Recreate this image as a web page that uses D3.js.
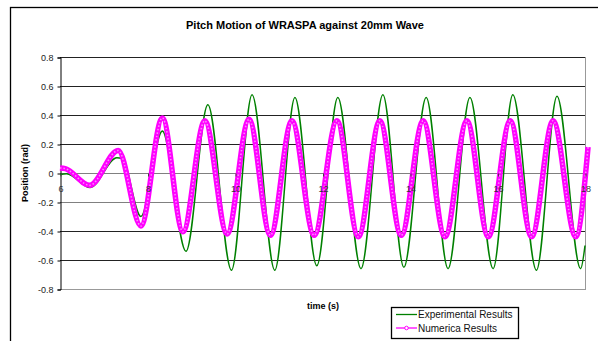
<!DOCTYPE html>
<html>
<head>
<meta charset="utf-8">
<script src="https://cdn.jsdelivr.net/npm/d3@7"></script>
<style>
  body { margin: 0; background: #fff; }
  svg { display: block; font-family: "Liberation Sans", Arial, sans-serif; }
</style>
</head>
<body>
<svg id="chart"></svg>
<script>
// values (turning points of each trace)
var expTime = [6.00, 6.15, 6.69, 7.30, 7.42, 7.85, 8.34, 8.88, 9.38, 9.92, 10.39, 10.91, 11.37, 11.87,
               12.35, 12.88, 13.38, 13.86, 14.37, 14.87, 15.37, 15.90, 16.35, 16.89, 17.36, 17.90, 18.00];
var expPos  = [-0.01, -0.005, -0.10, 0.105, 0.10, -0.30, 0.29, -0.54, 0.47, -0.67, 0.54, -0.67, 0.52, -0.64,
               0.52, -0.66, 0.54, -0.65, 0.52, -0.66, 0.52, -0.66, 0.54, -0.67, 0.53, -0.66, -0.50];

var numTime = [6.00, 6.12, 6.68, 7.33, 7.85, 8.34, 8.81, 9.31, 9.82, 10.32, 10.81, 11.30, 11.81, 12.33,
               12.82, 13.31, 13.80, 14.30, 14.80, 15.30, 15.79, 16.29, 16.78, 17.27, 17.79, 18.07];
var numPos  = [0.035, 0.03, -0.085, 0.155, -0.365, 0.38, -0.405, 0.36, -0.42, 0.37, -0.43, 0.36, -0.43, 0.36,
               -0.44, 0.36, -0.43, 0.36, -0.44, 0.36, -0.44, 0.36, -0.44, 0.36, -0.44, 0.18];

var xTicks = [6, 8, 10, 12, 14, 16, 18];
var yTicks = [0.8, 0.6, 0.4, 0.2, 0, -0.2, -0.4, -0.6, -0.8];
var yTickLabels = ["0.8", "0.6", "0.4", "0.2", "0", "-0.2", "-0.4", "-0.6", "-0.8"];
var seriesNames = ["Experimental Results", "Numerica Results"];

var width = 598, height = 341;
var svg = d3.select("#chart").attr("width", width).attr("height", height);

var plot = {left: 60, right: 585, top: 57, bottom: 289};

var xScale = d3.scaleLinear().domain([6, 18]).range([plot.left, plot.right]);
var yScale = d3.scaleLinear().domain([-0.8, 0.8]).range([plot.bottom, plot.top]);

// outer chart frame
svg.append("rect")
   .attr("x", 10.5).attr("y", 7.5)
   .attr("width", 600).attr("height", 400)
   .attr("fill", "#fff").attr("stroke", "#000").attr("stroke-width", 1.3);

// title
svg.append("text")
   .attr("x", 305).attr("y", 29)
   .attr("text-anchor", "middle")
   .style("font-size", "11px").style("font-weight", "bold")
   .text("Pitch Motion of WRASPA against 20mm Wave");

// gridlines
var gridColor = function(d){
  if (d == 0 || d == -0.2) return "#808080";
  if (d == -0.8) return "#999";
  return "#222";
};
svg.append("g").selectAll("line")
   .data(yTicks)
   .enter()
   .append("line")
   .attr("x1", plot.left).attr("x2", plot.right)
   .attr("y1", function(d){return Math.round(yScale(d)) + 0.5})
   .attr("y2", function(d){return Math.round(yScale(d)) + 0.5})
   .attr("stroke", gridColor)
   .attr("stroke-width", 1);

// right border of plot area
svg.append("line")
   .attr("x1", plot.right + 0.5).attr("x2", plot.right + 0.5)
   .attr("y1", plot.top).attr("y2", plot.bottom + 1)
   .attr("stroke", "#999");

// y axis
var yAxis = d3.axisLeft(yScale)
              .tickValues(yTicks)
              .tickSize(3)
              .tickPadding(4)
              .tickFormat(function(d, i){return yTickLabels[i]});
var yG = svg.append("g")
            .attr("transform", "translate(" + (plot.left + 0.5) + ",0.5)")
            .call(yAxis);
yG.select(".domain").attr("stroke", "#000");
yG.selectAll("text").style("font-size", "9px").attr("fill", "#222").attr("font-family", null);

// series
var expData = expTime.map(function(t, i){return {t: t, v: expPos[i]}});
var numData = numTime.map(function(t, i){return {t: t, v: numPos[i]}});

var line = d3.line()
             .x(function(d){return xScale(d.t)})
             .y(function(d){return yScale(d.v)})
             .curve(d3.curveMonotoneX);

svg.append("path")
   .datum(expData)
   .attr("d", line)
   .attr("fill", "none")
   .attr("stroke", "#008000")
   .attr("stroke-width", 1.5);

svg.append("path")
   .datum(numData)
   .attr("d", line)
   .attr("fill", "none")
   .attr("stroke", "#ff00ff")
   .attr("stroke-width", 5.5);

// lighter inside of the marker chain
svg.append("path")
   .datum(numData)
   .attr("d", line)
   .attr("fill", "none")
   .attr("stroke", "#ff88ff")
   .attr("stroke-width", 1.6)
   .attr("stroke-dasharray", "1.5,2");

// x axis crossing at 0, drawn over the traces like the original
var xAxis = d3.axisBottom(xScale)
              .tickValues(xTicks)
              .tickSize(3)
              .tickPadding(9)
              .tickFormat(d3.format("d"));
var xG = svg.append("g")
            .attr("transform", "translate(0.5," + (Math.round(yScale(0)) + 0.5) + ")")
            .call(xAxis);
xG.select(".domain").remove();
xG.selectAll("line").attr("stroke", "#444");
xG.selectAll("text").style("font-size", "9px").attr("fill", "#333").attr("font-family", null);

// axis titles
svg.append("text")
   .attr("transform", "translate(28," + yScale(0) + ") rotate(-90)")
   .attr("text-anchor", "middle")
   .style("font-size", "9px").style("font-weight", "bold")
   .text("Position (rad)");

svg.append("text")
   .attr("x", 307).attr("y", 309)
   .style("font-size", "9px").style("font-weight", "bold")
   .text("time (s)");

// legend
var legend = svg.append("g").attr("transform", "translate(391,307)");
legend.append("rect")
      .attr("x", 0.5).attr("y", 0.5)
      .attr("width", 127).attr("height", 31)
      .attr("fill", "#fff").attr("stroke", "#000").attr("stroke-width", 1.3);

var legColors = ["#008000", "#ff00ff"];
var items = legend.selectAll("g.item")
                  .data(seriesNames)
                  .enter()
                  .append("g")
                  .classed("item", true)
                  .attr("transform", function(d, i){return "translate(0," + (7.5 + i * 13.5) + ")"});

items.append("line")
     .attr("x1", 5).attr("x2", 26)
     .attr("stroke", function(d, i){return legColors[i]})
     .attr("stroke-width", 1.3);

items.filter(function(d, i){return i == 1})
     .append("circle")
     .attr("cx", 15.5).attr("r", 1.8)
     .attr("fill", "#fff").attr("stroke", "#ff00ff").attr("stroke-width", 1);

items.append("text")
     .attr("x", 27).attr("y", 3.5)
     .style("font-size", "10px")
     .attr("fill", "#111")
     .text(function(d){return d});
</script>
</body>
</html>
